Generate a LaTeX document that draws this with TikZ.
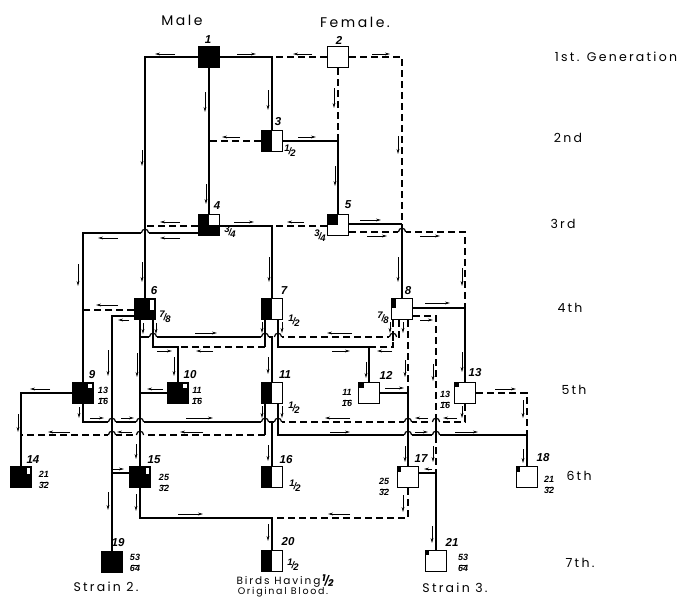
\documentclass[tikz,border=0pt]{standalone}
\usepackage{fontspec}
\setmainfont{Liberation Sans}
\newfontfamily\hand{Poppins}[LetterSpace=18]
\usetikzlibrary{calc,arrows.meta}
\pgfdeclarelayer{bg}
\pgfsetlayers{bg,main}
\newcommand\sfr[2]{{\fontsize{9.5}{9.5}\selectfont\itshape\bfseries\raisebox{3pt}{#1}\kern-1pt/\kern-1pt\raisebox{-2pt}{#2}}}
\newcommand\stk[2]{{\fontsize{9}{9}\selectfont\itshape\bfseries\begin{tabular}{@{}c@{}}#1\\[-3.5pt]\rule{8pt}{0.6pt}\\[-3.5pt]#2\end{tabular}}}
\newcommand\ar[4]{\draw[arr] (#1,#2) -- (#3,#4);}
\newcommand\hop[2]{\fill[white] (#1-3.6,#2-1.4) rectangle (#1+3.6,#2+1.4);
  \draw[sol] (#1,#2-4) -- (#1,#2+4);
  \draw[sol] (#1-3.6,#2) .. controls (#1-3.6,#2-5) and (#1+3.6,#2-5) .. (#1+3.6,#2);}
\begin{document}
\begin{tikzpicture}[x=1pt,y=-1pt,
  box/.style={draw,line width=1.1pt,minimum size=21pt,inner sep=0pt,fill=white},
  blk/.style={box,fill=black},
  halfb/.style={box,path picture={\fill[black] (path picture bounding box.south west) rectangle (path picture bounding box.north);}},
  qwhite/.style={box,fill=black,path picture={\fill[white] (path picture bounding box.center) rectangle (path picture bounding box.north east);}},
  qblack/.style={box,path picture={\fill[black] (path picture bounding box.center) rectangle (path picture bounding box.north west);}},
  sol/.style={line width=1.2pt},
  dsh/.style={line width=1.2pt,dash pattern=on 7pt off 4pt},
  arr/.style={line width=0.8pt,-{Stealth[length=5pt,width=2.8pt]}},
  lab/.style={font=\fontsize{11.5}{11.5}\selectfont\bfseries\itshape,inner sep=0pt},
  fr/.style={inner sep=0pt},
  hd/.style={font=\hand\fontsize{12.5}{12.5}\selectfont,inner sep=0pt}]
\useasboundingbox (0,0) rectangle (690,597);

% ---------- nodes ----------
\node[blk]    (n1)  at (209,57) {};
\node[box]    (n2)  at (338,57) {};
\node[halfb]  (n3)  at (272,141) {};
\node[qwhite] (n4)  at (209,225) {};
\node[qblack] (n5)  at (338,225) {};
\node[blk]    (n6)  at (145,309) {};
\node[halfb]  (n7)  at (272,309) {};
\node[box]    (n8)  at (402,309) {};
\node[blk]    (n9)  at (83,393) {};
\node[blk]    (n10) at (178,393) {};
\node[halfb]  (n11) at (272,393) {};
\node[box]    (n12) at (369,393) {};
\node[box]    (n13) at (465,393) {};
\node[blk]    (n14) at (21,477) {};
\node[blk]    (n15) at (140,477) {};
\node[halfb]  (n16) at (272,477) {};
\node[box]    (n17) at (408,477) {};
\node[box]    (n18) at (527,477) {};
\node[blk]    (n19) at (112,562) {};
\node[halfb]  (n20) at (272,561) {};
\node[box]    (n21) at (436,561) {};

% corner marks
\fill[white] ([shift={(-1.6pt,-1.6pt)}]n6.north east) rectangle ++(-4pt,-10pt);
\fill[white] ([shift={(-1.6pt,-1.6pt)}]n9.north east) rectangle ++(-4pt,-4pt);
\fill[white] ([shift={(-1.6pt,-1.6pt)}]n10.north east) rectangle ++(-4pt,-4pt);
\fill[white] ([shift={(-1.6pt,-1.6pt)}]n14.north east) rectangle ++(-3.5pt,-6pt);
\fill[white] ([shift={(-1.6pt,-1.6pt)}]n15.north east) rectangle ++(-3.5pt,-6pt);
\fill[black] ([shift={(0.5pt,-0.5pt)}]n8.north west) rectangle ++(5pt,-10pt);
\fill[black] ([shift={(0.5pt,-0.5pt)}]n12.north west) rectangle ++(6pt,-6pt);
\fill[black] ([shift={(0.5pt,-0.5pt)}]n13.north west) rectangle ++(5pt,-5pt);
\fill[black] ([shift={(0.5pt,-0.5pt)}]n17.north west) rectangle ++(4pt,-6pt);
\fill[black] ([shift={(0.5pt,-0.5pt)}]n18.north west) rectangle ++(4pt,-6pt);
\fill[black] ([shift={(0.5pt,-0.5pt)}]n21.north west) rectangle ++(3.5pt,-5pt);

% ---------- junctions ----------
\coordinate (j6a) at (145,226);
\coordinate (j9a) at (83,233);
\coordinate (j7) at (272,226);
\coordinate (j8) at (402,224);
\coordinate (j13a) at (465,232);
\coordinate (j13b) at (465,308);
\coordinate (j9b) at (83,310);
\coordinate (j19) at (112,316);
\coordinate (j15) at (112,473);
\coordinate (j11a) at (140,337);
\coordinate (j11b) at (272,337);
\coordinate (j10a) at (153,347);
\coordinate (j10b) at (178,347);
\coordinate (j10c) at (265,347);
\coordinate (j12a) at (278,347);
\coordinate (j12b) at (369,347);
\coordinate (j12c) at (393,347);
\coordinate (j11c) at (399,337);
\coordinate (j17a) at (408,393);
\coordinate (j21a) at (436,316);
\coordinate (j21b) at (436,473);
\coordinate (j16a) at (83,422);
\coordinate (j16b) at (272,422);
\coordinate (j16c) at (465,422);
\coordinate (j14a) at (265,435);
\coordinate (j14b) at (21,435);
\coordinate (j18a) at (278,435);
\coordinate (j18b) at (527,435);
\coordinate (j18c) at (527,393);
\coordinate (j20a) at (140,518);
\coordinate (j20b) at (272,518);
\coordinate (j20c) at (408,518);
\coordinate (j15b) at (140,393);

\begin{pgfonlayer}{bg}
\fill[white] (0,0) rectangle (690,597);
% generation 1 -> 2,3
\draw[sol] (n1) -| (n6);
\draw[sol] (n1) -| (n3);
\draw[dsh] (n2) -- (n3 |- n2);
\draw[sol] (n1) -- (n4);
\draw[dsh] (n2) -| (j8);
\draw[sol] (j8) -- (n8);
\draw[dsh] (n2) -- (n2 |- n3);
\draw[sol] (n3) -| (n5);
\draw[dsh] (n3) -- (n4 |- n3);
% generation 3
\draw[dsh] ($(n4)+(0,1)$) -- (j6a);
\draw[sol] ($(n4)+(0,8)$) -- (j9a) -- (n9);
\draw[sol] ($(n4)+(0,1)$) -- (j7) -- (n7);
\draw[dsh] ($(n5)+(0,1)$) -- (j7);
\draw[sol] ($(n5)+(0,-1)$) -- (j8);
\draw[dsh] ($(n5)+(0,7)$) -- (j13a) -- (j13b);
\draw[sol] ($(n8)+(0,-1)$) -- (j13b) -- (n13);
% generation 4
\draw[dsh] ($(n6)+(0,1)$) -- (j9b);
\draw[sol] ($(n6)+(0,7)$) -- (j19) -- (n19);
\draw[sol] (j15) -- ($(n15)+(0,-4)$);
\draw[sol] ($(n6)+(-5,0)$) -- (n15);
\draw[sol] (j11a) -- (j11b) -- (n11);
\draw[sol] ($(n6)+(8,0)$) -- (j10a) -- (j10b) -- (n10);
\draw[sol] ($(n7)+(-7,0)$) -- (j10c);
\draw[dsh] (j10c) -- (j10b);
\draw[sol] ($(n7)+(6,0)$) -- (j12a) -- (j12b) -- (n12);
\draw[dsh] ($(n8)+(-9,0)$) -- (j12c) -- (j12b);
\draw[dsh] ($(n8)+(-3,0)$) -- (j11c) -- (j11b);
\draw[dsh] ($(n8)+(0,7)$) -- (j21a) -- (j21b);
\draw[dsh] ($(n8)+(6,0)$) -- (j17a);
\draw[sol] (n12) -- (j17a) -- (n17);
% generation 5
\draw[sol] (n9) -| (n14);
\draw[sol] (n9) -- (j16a) -- (j16b) -- (n16);
\draw[dsh] (n13) -- (j16c) -- (j16b);
\draw[sol] ($(n11)+(-7,0)$) -- (j14a);
\draw[dsh] (j14a) -- (j14b);
\draw[sol] ($(n11)+(6,0)$) -- (j18a) -- (j18b) -- (n18);
\draw[dsh] (n13) -- (j18c) -- (j18b);
\draw[sol] (n10) -- (j15b);
% generation 6
\draw[sol] (n15) -- (j20a) -- (j20b) -- (n20);
\draw[dsh] (n17) -- (j20c) -- (j20b);
\draw[sol] ($(n17)+(0,-4)$) -- (j21b) -- (n21);

% hops
\hop{145}{233}\hop{402}{232}\hop{153}{337}\hop{265}{337}\hop{278}{337}\hop{393}{337}
\hop{112}{422}\hop{140}{422}\hop{265}{422}\hop{278}{422}\hop{408}{422}\hop{436}{422}
\hop{112}{435}\hop{140}{435}\hop{408}{435}\hop{436}{435}

% arrows
\ar{175}{54}{155}{54}\ar{237}{54}{256}{54}\ar{312}{54}{293}{54}\ar{372}{54}{390}{54}
\ar{205}{92}{205}{112}\ar{268}{90}{268}{110}\ar{334}{88}{334}{108}
\ar{142}{150}{142}{166}\ar{206}{184}{206}{204}\ar{398}{136}{398}{154}
\ar{240}{137}{222}{137}\ar{298}{137}{316}{137}\ar{335}{166}{335}{186}
\ar{180}{222}{160}{222}\ar{180}{238}{160}{238}\ar{118}{238}{98}{238}
\ar{234}{222}{254}{222}\ar{304}{222}{287}{222}\ar{360}{220}{381}{220}
\ar{367}{236}{387}{236}\ar{420}{236}{440}{236}
\ar{78}{264}{78}{286}\ar{142}{262}{142}{282}\ar{269}{257}{269}{282}\ar{398}{257}{398}{282}
\ar{118}{305}{96}{305}\ar{129}{320}{118}{320}
\ar{143}{323}{143}{334}\ar{156}{323}{156}{334}
\ar{195}{333}{217}{333}\ar{157}{351}{172}{351}\ar{213}{351}{196}{351}
\ar{108}{350}{108}{376}\ar{137}{353}{137}{377}\ar{174}{357}{174}{376}
\ar{163}{389}{147}{389}\ar{50}{389}{30}{389}\ar{18}{414}{18}{432}\ar{79}{407}{79}{418}
\ar{90}{418}{104}{418}\ar{121}{418}{134}{418}\ar{186}{418}{213}{418}
\ar{70}{432}{48}{432}\ar{132}{432}{117}{432}\ar{203}{432}{180}{432}
\ar{262}{322}{262}{333}\ar{282}{322}{282}{333}
\ar{352}{333}{327}{333}\ar{332}{351}{350}{351}\ar{392}{351}{377}{351}
\ar{268}{357}{268}{374}\ar{366}{362}{366}{378}
\ar{390}{322}{390}{333}\ar{403}{322}{403}{333}
\ar{425}{303}{450}{303}\ar{420}{320}{433}{320}
\ar{405}{360}{405}{377}\ar{433}{364}{433}{381}
\ar{462}{268}{462}{286}\ar{462}{352}{462}{372}
\ar{385}{388}{404}{388}\ar{495}{389}{516}{389}\ar{523}{400}{523}{418}\ar{462}{406}{462}{418}
\ar{350}{418}{325}{418}\ar{428}{418}{415}{418}\ar{457}{418}{443}{418}
\ar{262}{406}{262}{418}\ar{282}{406}{282}{418}
\ar{330}{432}{350}{432}\ar{415}{432}{428}{432}\ar{455}{432}{478}{432}
\ar{405}{446}{405}{462}\ar{433}{446}{433}{462}\ar{432}{469}{424}{469}
\ar{432}{526}{432}{543}\ar{523}{449}{523}{463}\ar{403}{495}{403}{512}
\ar{350}{514}{328}{514}\ar{268}{445}{268}{461}\ar{136}{444}{136}{459}
\ar{113}{469}{124}{469}\ar{108}{492}{108}{510}\ar{136}{494}{136}{511}
\ar{178}{514}{203}{514}\ar{268}{524}{268}{541}
\end{pgfonlayer}

% ---------- labels ----------
\node[lab] (l1) at (208,40) {1};
\node[lab] (l2) at (339,40) {2};
\node[lab] (l3) at (278,122) {3};
\node[lab] (l4) at (217,206) {4};
\node[lab] (l5) at (348,205) {5};
\node[lab] (l6) at (154,291) {6};
\node[lab] (l7) at (284,291) {7};
\node[lab] (l8) at (408,291) {8};
\node[lab] (l9) at (92,375) {9};
\node[lab] (l10) at (190,375) {10};
\node[lab] (l11) at (285,375) {11};
\node[lab] (l12) at (386,375) {12};
\node[lab] (l13) at (475,373) {13};
\node[lab] (l14) at (33,460) {14};
\node[lab] (l15) at (154,460) {15};
\node[lab] (l16) at (286,460) {16};
\node[lab] (l17) at (421,459) {17};
\node[lab] (l18) at (543,458) {18};
\node[lab] (l19) at (118,543) {19};
\node[lab] (l20) at (288,542) {20};
\node[lab] (l21) at (452,542) {21};

\node[fr] (f3) at (290,151) {\sfr{1}{2}};
\node[fr] (f4) at (230,232) {\sfr{3}{4}};
\node[fr] (f5) at (320,236) {\sfr{3}{4}};
\node[fr] (f6) at (165,317) {\sfr{7}{8}};
\node[fr] (f7) at (294,321) {\sfr{1}{2}};
\node[fr] (f8) at (383,318) {\sfr{7}{8}};
\node[fr] (f9) at (103,397) {\stk{13}{16}};
\node[fr] (f10) at (197,397) {\stk{11}{16}};
\node[fr] (f11) at (294,408) {\sfr{1}{2}};
\node[fr] (f12) at (347,399) {\stk{11}{16}};
\node[fr] (f13) at (445,401) {\stk{13}{16}};
\node[fr] (f14) at (44,481) {\stk{21}{32}};
\node[fr] (f15) at (164,484) {\stk{25}{32}};
\node[fr] (f16) at (295,486) {\sfr{1}{2}};
\node[fr] (f17) at (384,488) {\stk{25}{32}};
\node[fr] (f18) at (549,486) {\stk{21}{32}};
\node[fr] (f19) at (135,564) {\stk{53}{64}};
\node[fr] (f20) at (293,565) {\sfr{1}{2}};
\node[fr] (f21) at (463,564) {\stk{53}{64}};

\node[hd,font=\hand\fontsize{14}{14}\selectfont] (male) at (182,20) {Male};
\node[hd,font=\hand\fontsize{14}{14}\selectfont] (female) at (355,22) {Female.};
\node[hd] (g1) at (616,57) {1st. Generation};
\node[hd] (g2) at (568,138) {2nd};
\node[hd] (g3) at (563,224) {3rd};
\node[hd] (g4) at (570,308) {4th};
\node[hd] (g5) at (574,390) {5th};
\node[hd] (g6) at (579,476) {6th};
\node[hd] (g7) at (580,563) {7th.};
\node[hd] (s2) at (106,587) {Strain 2.};
\node[hd] (s3) at (455,588) {Strain 3.};
\node[hd,font=\hand\fontsize{10.5}{10.5}\selectfont] (bh) at (285,581) {Birds Having\,\sfr{1}{2}};
\node[hd,font=\hand\fontsize{9.5}{9.5}\selectfont] (ob) at (283,592) {Original Blood.};
\end{tikzpicture}
\end{document}
